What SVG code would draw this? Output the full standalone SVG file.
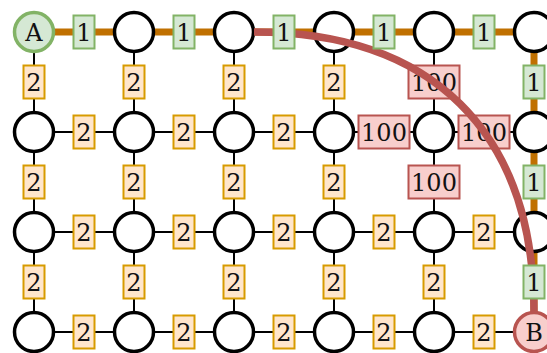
<svg xmlns="http://www.w3.org/2000/svg" width="547" height="353" viewBox="0 0 547 353">
<style>
.e{stroke:#000;stroke-width:2;fill:none}
.p{stroke:#c07000;stroke-width:7;fill:none}
.n{fill:#fff;stroke:#000;stroke-width:3.5}
.lo{fill:#ffe6cc;stroke:#d79b00;stroke-width:2}
.lg{fill:#d5e8d4;stroke:#82b366;stroke-width:2}
.lr{fill:#f8cecc;stroke:#b85450;stroke-width:2}
text{font-family:"DejaVu Serif",serif;font-size:24px;text-anchor:middle;fill:#111}
</style>
<rect width="547" height="353" fill="#fff"/>
<g id="connectors">
<g id="grid-edges">
<path class="e" d="M34,32H534M34,132H534M34,232H534M34,332H534"/>
<path class="e" d="M34,32V332M134,32V332M234,32V332M334,32V332M434,32V332M534,32V332"/>
</g>
<g id="path-edges">
<path class="p" d="M34,32H534V332"/>
</g>
</g>
<g id="nodes">
<g id="n-1-1"><circle class="n" cx="34" cy="32" r="19.5" style="fill:#d5e8d4;stroke:#82b366"/><text x="34" y="41">A</text></g>
<g id="n-1-2"><circle class="n" cx="134" cy="32" r="19.5"/></g>
<g id="n-1-3"><circle class="n" cx="234" cy="32" r="19.5"/></g>
<g id="n-1-4"><circle class="n" cx="334" cy="32" r="19.5"/></g>
<g id="n-1-5"><circle class="n" cx="434" cy="32" r="19.5"/></g>
<g id="n-1-6"><circle class="n" cx="534" cy="32" r="19.5"/></g>
<g id="n-2-1"><circle class="n" cx="34" cy="132" r="19.5"/></g>
<g id="n-2-2"><circle class="n" cx="134" cy="132" r="19.5"/></g>
<g id="n-2-3"><circle class="n" cx="234" cy="132" r="19.5"/></g>
<g id="n-2-4"><circle class="n" cx="334" cy="132" r="19.5"/></g>
<g id="n-2-5"><circle class="n" cx="434" cy="132" r="19.5"/></g>
<g id="n-2-6"><circle class="n" cx="534" cy="132" r="19.5"/></g>
<g id="n-3-1"><circle class="n" cx="34" cy="232" r="19.5"/></g>
<g id="n-3-2"><circle class="n" cx="134" cy="232" r="19.5"/></g>
<g id="n-3-3"><circle class="n" cx="234" cy="232" r="19.5"/></g>
<g id="n-3-4"><circle class="n" cx="334" cy="232" r="19.5"/></g>
<g id="n-3-5"><circle class="n" cx="434" cy="232" r="19.5"/></g>
<g id="n-3-6"><circle class="n" cx="534" cy="232" r="19.5"/></g>
<g id="n-4-1"><circle class="n" cx="34" cy="332" r="19.5"/></g>
<g id="n-4-2"><circle class="n" cx="134" cy="332" r="19.5"/></g>
<g id="n-4-3"><circle class="n" cx="234" cy="332" r="19.5"/></g>
<g id="n-4-4"><circle class="n" cx="334" cy="332" r="19.5"/></g>
<g id="n-4-5"><circle class="n" cx="434" cy="332" r="19.5"/></g>
</g>
<g id="edge-labels">
<rect class="lo" x="23.5" y="65.5" width="21" height="33"/><text x="34" y="91">2</text>
<rect class="lo" x="123.5" y="65.5" width="21" height="33"/><text x="134" y="91">2</text>
<rect class="lo" x="223.5" y="65.5" width="21" height="33"/><text x="234" y="91">2</text>
<rect class="lo" x="323.5" y="65.5" width="21" height="33"/><text x="334" y="91">2</text>
<rect class="lr" x="408.5" y="65.5" width="51" height="33"/><text x="434" y="91">100</text>
<rect class="lo" x="73.5" y="115.5" width="21" height="33"/><text x="84" y="141">2</text>
<rect class="lo" x="173.5" y="115.5" width="21" height="33"/><text x="184" y="141">2</text>
<rect class="lo" x="273.5" y="115.5" width="21" height="33"/><text x="284" y="141">2</text>
<rect class="lr" x="358.5" y="115.5" width="51" height="33"/><text x="384" y="141">100</text>
<rect class="lr" x="458.5" y="115.5" width="51" height="33"/><text x="484" y="141">100</text>
<rect class="lo" x="23.5" y="165.5" width="21" height="33"/><text x="34" y="191">2</text>
<rect class="lo" x="123.5" y="165.5" width="21" height="33"/><text x="134" y="191">2</text>
<rect class="lo" x="223.5" y="165.5" width="21" height="33"/><text x="234" y="191">2</text>
<rect class="lo" x="323.5" y="165.5" width="21" height="33"/><text x="334" y="191">2</text>
<rect class="lr" x="408.5" y="165.5" width="51" height="33"/><text x="434" y="191">100</text>
<rect class="lo" x="73.5" y="215.5" width="21" height="33"/><text x="84" y="241">2</text>
<rect class="lo" x="173.5" y="215.5" width="21" height="33"/><text x="184" y="241">2</text>
<rect class="lo" x="273.5" y="215.5" width="21" height="33"/><text x="284" y="241">2</text>
<rect class="lo" x="373.5" y="215.5" width="21" height="33"/><text x="384" y="241">2</text>
<rect class="lo" x="473.5" y="215.5" width="21" height="33"/><text x="484" y="241">2</text>
<rect class="lo" x="23.5" y="265.5" width="21" height="33"/><text x="34" y="291">2</text>
<rect class="lo" x="123.5" y="265.5" width="21" height="33"/><text x="134" y="291">2</text>
<rect class="lo" x="223.5" y="265.5" width="21" height="33"/><text x="234" y="291">2</text>
<rect class="lo" x="323.5" y="265.5" width="21" height="33"/><text x="334" y="291">2</text>
<rect class="lo" x="423.5" y="265.5" width="21" height="33"/><text x="434" y="291">2</text>
<rect class="lo" x="73.5" y="315.5" width="21" height="33"/><text x="84" y="341">2</text>
<rect class="lo" x="173.5" y="315.5" width="21" height="33"/><text x="184" y="341">2</text>
<rect class="lo" x="273.5" y="315.5" width="21" height="33"/><text x="284" y="341">2</text>
<rect class="lo" x="373.5" y="315.5" width="21" height="33"/><text x="384" y="341">2</text>
<rect class="lo" x="473.5" y="315.5" width="21" height="33"/><text x="484" y="341">2</text>
</g>
<g id="route">
<path d="M254,32 C430,32 534,130 534,312" fill="none" stroke="#b85450" stroke-width="7.5"/>
</g>
<g id="path-labels">
<rect class="lg" x="73.5" y="15.5" width="21" height="33"/><text x="84" y="41">1</text>
<rect class="lg" x="173.5" y="15.5" width="21" height="33"/><text x="184" y="41">1</text>
<rect class="lg" x="273.5" y="15.5" width="21" height="33"/><text x="284" y="41">1</text>
<rect class="lg" x="373.5" y="15.5" width="21" height="33"/><text x="384" y="41">1</text>
<rect class="lg" x="473.5" y="15.5" width="21" height="33"/><text x="484" y="41">1</text>
<rect class="lg" x="523.5" y="65.5" width="21" height="33"/><text x="534" y="91">1</text>
<rect class="lg" x="523.5" y="165.5" width="21" height="33"/><text x="534" y="191">1</text>
<rect class="lg" x="523.5" y="265.5" width="21" height="33"/><text x="534" y="291">1</text>
</g>
<g id="n-4-6"><circle class="n" cx="534" cy="332" r="19.5" style="fill:#f8cecc;stroke:#b85450"/><text x="534" y="341">B</text></g>
</svg>
